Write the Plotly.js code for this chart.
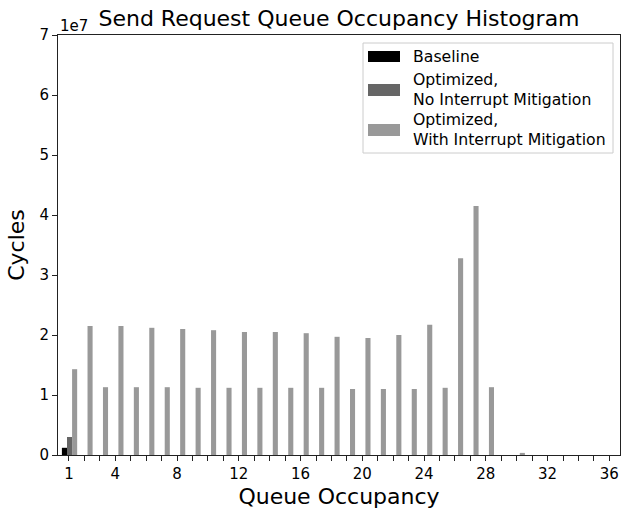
<!DOCTYPE html>
<html>
<head>
<meta charset="utf-8">
<script src="https://cdn.plot.ly/plotly-3.0.1.min.js"></script>
<style>html,body{margin:0;padding:0;background:#fff;}#chart{width:621px;height:509px;}</style>
</head>
<body>
<div id="chart"></div>
<script>
// Queue occupancy categories
var occupancy = [1,2,3,4,5,6,7,8,9,10,11,12,13,14,15,16,17,18,19,20,21,22,23,24,25,26,27,28,29,30,31,32,33,34,35,36];
// Cycles per occupancy
var baseline = [1.2e6,0,0,0,0,0,0,0,0,0,0,0,0,0,0,0,0,0,0,0,0,0,0,0,0,0,0,0,0,0,0,0,0,0,0,0];
var noMitigation = [3.0e6,0,0,0,0,0,0,0,0,0,0,0,0,0,0,0,0,0,0,0,0,0,0,0,0,0,0,0,0,0,0,0,0,0,0,0];
var withMitigation = [1.43e7,2.15e7,1.13e7,2.15e7,1.13e7,2.12e7,1.13e7,2.10e7,1.12e7,2.08e7,1.12e7,2.05e7,1.12e7,2.05e7,1.12e7,2.03e7,1.12e7,1.97e7,1.10e7,1.95e7,1.10e7,2.00e7,1.10e7,2.17e7,1.12e7,3.28e7,4.15e7,1.13e7,0,3.5e5,0,0,0,0,0,0];
var seriesNames = ['Baseline', 'Optimized,<br>No Interrupt Mitigation', 'Optimized,<br>With Interrupt Mitigation'];
var seriesColors = ['#000000', '#666666', '#999999'];
// Tick labels
var xTickVals = occupancy;
var xTickText = occupancy.map(function(v){ return (v === 1 || v % 4 === 0) ? String(v) : ''; });
var yTickVals = [0,1e7,2e7,3e7,4e7,5e7,6e7,7e7];
var yTickText = ['0','1','2','3','4','5','6','7'];

var font = 'DejaVu Sans, sans-serif';
var W = 621, H = 509, ml = 58, mr = 1, mt = 35, mb = 54;
var pw = W - ml - mr, ph = H - mt - mb;
function px(x){ return (x - ml) / pw; }
function py(y){ return (H - mb - y) / ph; }

var barWidth = 0.33;
var offsets = [-0.46, -0.13, 0.20];
var values = [baseline, noMitigation, withMitigation];
var traces = values.map(function(v, i){
  return {
    type: 'bar', x: occupancy, y: v, name: seriesNames[i],
    width: barWidth, offset: offsets[i],
    marker: {color: seriesColors[i], line: {width: 0}},
    showlegend: false, hoverinfo: 'x+y'
  };
});

// Custom legend (matplotlib-like)
var shapes = [{
  type: 'rect', xref: 'paper', yref: 'paper',
  x0: px(363), x1: px(613), y0: py(153), y1: py(43),
  line: {color: '#cccccc', width: 1}, fillcolor: 'rgba(255,255,255,0.8)', layer: 'above'
}];
var patchY = [[51,62],[84,96],[124,136]];
var textY = [56.5, 89.5, 129.5];
var annotations = [];
for (var i = 0; i < 3; i++) {
  shapes.push({
    type: 'rect', xref: 'paper', yref: 'paper',
    x0: px(368), x1: px(400), y0: py(patchY[i][1]), y1: py(patchY[i][0]),
    line: {width: 0}, fillcolor: seriesColors[i], layer: 'above'
  });
  annotations.push({
    xref: 'paper', yref: 'paper', x: px(411), y: py(textY[i]),
    xanchor: 'left', yanchor: 'middle', align: 'left', showarrow: false,
    text: seriesNames[i], font: {family: font, size: 15.7, color: '#000'}
  });
}
annotations.push({
  xref: 'paper', yref: 'paper', x: px(58), y: py(25.5),
  xanchor: 'left', yanchor: 'middle', showarrow: false,
  text: '1e7', font: {family: font, size: 15, color: '#000'}
});

var layout = {
  width: W, height: H,
  margin: {l: ml, r: mr, t: mt, b: mb, pad: 0},
  paper_bgcolor: '#fff', plot_bgcolor: '#fff',
  barmode: 'overlay',
  font: {family: font, color: '#000'},
  title: {text: 'Send Request Queue Occupancy Histogram', font: {family: font, size: 22, color: '#000'},
          x: 0.5, xref: 'paper', xanchor: 'center', y: 1 - 18/H, yref: 'container', yanchor: 'middle'},
  xaxis: {
    range: [0.288, 36.69], tickmode: 'array', tickvals: xTickVals, ticktext: xTickText,
    ticks: 'outside', ticklen: 5, tickwidth: 1, tickcolor: '#222',
    showline: true, linecolor: '#222', linewidth: 1, mirror: true,
    showgrid: false, zeroline: false,
    tickfont: {family: font, size: 15, color: '#000'},
    title: {text: 'Queue Occupancy', font: {family: font, size: 22, color: '#000'}, standoff: 6}
  },
  yaxis: {
    range: [0, 7e7], tickmode: 'array', tickvals: yTickVals, ticktext: yTickText,
    ticks: 'outside', ticklen: 5, tickwidth: 1, tickcolor: '#222',
    showline: true, linecolor: '#222', linewidth: 1, mirror: true,
    showgrid: false, zeroline: false,
    tickfont: {family: font, size: 15, color: '#000'},
    title: {text: 'Cycles', font: {family: font, size: 22, color: '#000'}, standoff: 8}
  },
  shapes: shapes,
  annotations: annotations
};

Plotly.newPlot('chart', traces, layout, {displayModeBar: false, staticPlot: true});
</script>
</body>
</html>
